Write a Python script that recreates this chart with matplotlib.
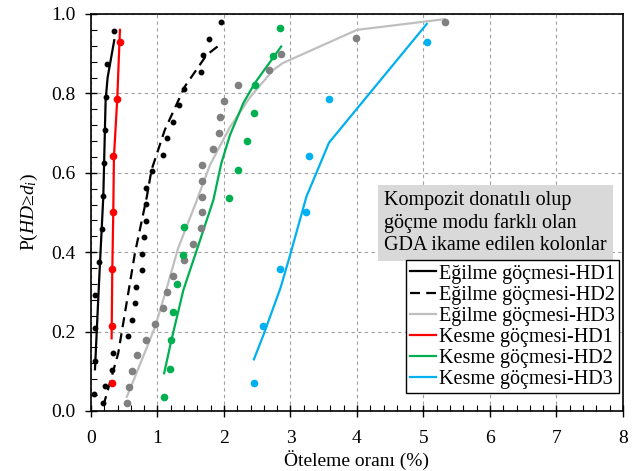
import matplotlib
matplotlib.use("Agg")
import matplotlib.pyplot as plt
from matplotlib.ticker import MultipleLocator

plt.rcParams['font.family'] = ['Liberation Serif', 'DejaVu Serif']
plt.rcParams['mathtext.fontset'] = 'custom'
plt.rcParams['mathtext.rm'] = 'Liberation Serif'
plt.rcParams['mathtext.it'] = 'Liberation Serif:italic'

# --- veriler ---
# Egilme gocmesi HD1
eg1_x = [0.045, 0.06, 0.06, 0.06, 0.12, 0.165, 0.185, 0.19, 0.21, 0.225, 0.24, 0.35]
eg1_y = [0.042, 0.125, 0.208, 0.292, 0.375, 0.458, 0.542, 0.625, 0.708, 0.792, 0.875, 0.958]
eg1_fit_x = [0.06, 0.10, 0.135, 0.185, 0.22, 0.25, 0.35]
eg1_fit_y = [0.105, 0.25, 0.372, 0.54, 0.783, 0.84, 0.934]

# Egilme gocmesi HD2
eg2_x = [0.185, 0.21, 0.31, 0.335, 0.55, 0.62, 0.66, 0.67, 0.76, 0.77, 0.80, 0.83,
         0.83, 0.83, 0.91, 1.09, 1.14, 1.24, 1.33, 1.40, 1.66, 1.69, 1.78, 1.95]
eg2_y = [0.021, 0.062, 0.104, 0.146, 0.188, 0.229, 0.271, 0.312, 0.354, 0.396, 0.438, 0.479,
         0.521, 0.562, 0.604, 0.646, 0.688, 0.729, 0.771, 0.812, 0.854, 0.896, 0.938, 0.979]
eg2_fit_x = [0.185, 0.30, 0.41, 0.66, 0.84, 0.91, 1.11, 1.41, 1.74, 1.95]
eg2_fit_y = [0.013, 0.08, 0.146, 0.397, 0.54, 0.607, 0.708, 0.817, 0.897, 0.924]

# Egilme gocmesi HD3
eg3_x = [0.535, 0.57, 0.62, 0.69, 0.83, 0.97, 1.09, 1.14, 1.24, 1.40, 1.54, 1.66, 1.67,
         1.67, 1.67, 1.67, 1.84, 1.92, 1.94, 2.00, 2.21, 2.68, 2.86, 3.99, 5.32]
eg3_y = [0.02, 0.06, 0.10, 0.14, 0.18, 0.22, 0.26, 0.30, 0.34, 0.38, 0.42, 0.46, 0.50,
         0.54, 0.58, 0.62, 0.66, 0.70, 0.74, 0.78, 0.82, 0.86, 0.90, 0.94, 0.98]
eg3_fit_x = [0.54, 0.84, 0.97, 1.14, 1.31, 1.59, 1.79, 2.09, 2.39, 2.74, 2.88, 4.0, 5.32]
eg3_fit_y = [0.036, 0.16, 0.215, 0.31, 0.41, 0.53, 0.62, 0.715, 0.79, 0.859, 0.876, 0.96, 0.987]

# Kesme gocmesi HD1
ke1_x = [0.31, 0.31, 0.31, 0.335, 0.335, 0.395, 0.43]
ke1_y = [0.071, 0.214, 0.357, 0.5, 0.643, 0.786, 0.929]
ke1_fit_x = [0.31, 0.32, 0.335, 0.345, 0.395, 0.435]
ke1_fit_y = [0.183, 0.35, 0.5, 0.64, 0.786, 0.96]

# Kesme gocmesi HD2
ke2_x = [1.10, 1.19, 1.20, 1.24, 1.30, 1.39, 1.40, 2.07, 2.21, 2.34, 2.45, 2.47, 2.73, 2.85]
ke2_y = [0.036, 0.107, 0.179, 0.25, 0.321, 0.393, 0.464, 0.536, 0.607, 0.679, 0.75, 0.821, 0.893, 0.964]
ke2_fit_x = [1.10, 1.21, 1.39, 1.64, 1.84, 1.96, 2.09, 2.29, 2.46, 2.86]
ke2_fit_y = [0.095, 0.179, 0.305, 0.43, 0.531, 0.624, 0.695, 0.775, 0.825, 0.918]

# Kesme gocmesi HD3
ke3_x = [2.45, 2.59, 2.85, 3.24, 3.28, 3.58, 5.05]
ke3_y = [0.071, 0.214, 0.357, 0.5, 0.643, 0.786, 0.929]
ke3_fit_x = [2.45, 2.59, 2.85, 2.99, 3.24, 3.58, 5.05]
ke3_fit_y = [0.13, 0.19, 0.31, 0.39, 0.54, 0.676, 0.975]

fig = plt.figure(figsize=(6.35, 4.71), dpi=100)
ax = fig.add_axes([0.1433, 0.1274, 0.8377, 0.8429])

# noktalar
ax.plot(eg1_x, eg1_y, 'o', color='black', ms=3.2, zorder=3)
ax.plot(eg2_x, eg2_y, 'o', color='black', ms=3.2, zorder=3)
ax.plot(eg3_x, eg3_y, 'o', color='#808080', ms=4.5, zorder=3)
ax.plot(ke1_x, ke1_y, 'o', color='#ff0000', ms=4.5, zorder=3)
ax.plot(ke2_x, ke2_y, 'o', color='#00b050', ms=4.5, zorder=3)
ax.plot(ke3_x, ke3_y, 'o', color='#00b0f0', ms=4.5, zorder=3)

# egriler
ax.plot(eg1_fit_x, eg1_fit_y, color='black', lw=1.6, label='Eğilme göçmesi-HD1')
ax.plot(eg2_fit_x, eg2_fit_y, color='black', lw=1.6, dashes=(4.5, 2.8), label='Eğilme göçmesi-HD2')
ax.plot(eg3_fit_x, eg3_fit_y, color='#bfbfbf', lw=1.6, label='Eğilme göçmesi-HD3')
ax.plot(ke1_fit_x, ke1_fit_y, color='#ff0000', lw=1.6, label='Kesme göçmesi-HD1')
ax.plot(ke2_fit_x, ke2_fit_y, color='#00b050', lw=1.6, label='Kesme göçmesi-HD2')
ax.plot(ke3_fit_x, ke3_fit_y, color='#00b0f0', lw=1.6, label='Kesme göçmesi-HD3')

ax.set_xlim(0, 8)
ax.set_ylim(0, 1.0)
ax.xaxis.set_major_locator(MultipleLocator(1))
ax.xaxis.set_minor_locator(MultipleLocator(0.2))
ax.yaxis.set_major_locator(MultipleLocator(0.2))
ax.yaxis.set_minor_locator(MultipleLocator(0.04))
ax.yaxis.set_major_formatter(matplotlib.ticker.FormatStrFormatter('%.1f'))
ax.tick_params(which='major', direction='inout', length=8, width=1, labelsize=14, pad=7)
ax.tick_params(axis='x', which='major', pad=10)
ax.tick_params(which='minor', direction='in', length=4, width=0.8)
ax.grid(True, which='major', color='#a0a0a0', linestyle=(0, (3, 3)), lw=0.8)
for s in ax.spines.values():
    s.set_linewidth(1.2)

ax.set_xlabel('Öteleme oranı (%)', fontsize=14, labelpad=2)
ax.set_ylabel('P($HD$≥$d_i$)', fontsize=14, labelpad=8)

ax.text(4.41, 0.474, 'Kompozit donatılı olup\ngöçme modu farklı olan\nGDA ikame edilen kolonlar',
        fontsize=14.5, va='center', ha='left', linespacing=1.2,
        bbox=dict(boxstyle='square,pad=0.3', facecolor='#d9d9d9', edgecolor='none'))

leg = ax.legend(loc='lower right', bbox_to_anchor=(0.9925, 0.045), fontsize=14.5,
                frameon=True, fancybox=False, framealpha=1, edgecolor='black',
                borderpad=0.2, labelspacing=0.1, handlelength=1.3, handletextpad=0.15,
                borderaxespad=0)
leg.get_frame().set_linewidth(1.0)

fig.savefig('out.png', dpi=100)
